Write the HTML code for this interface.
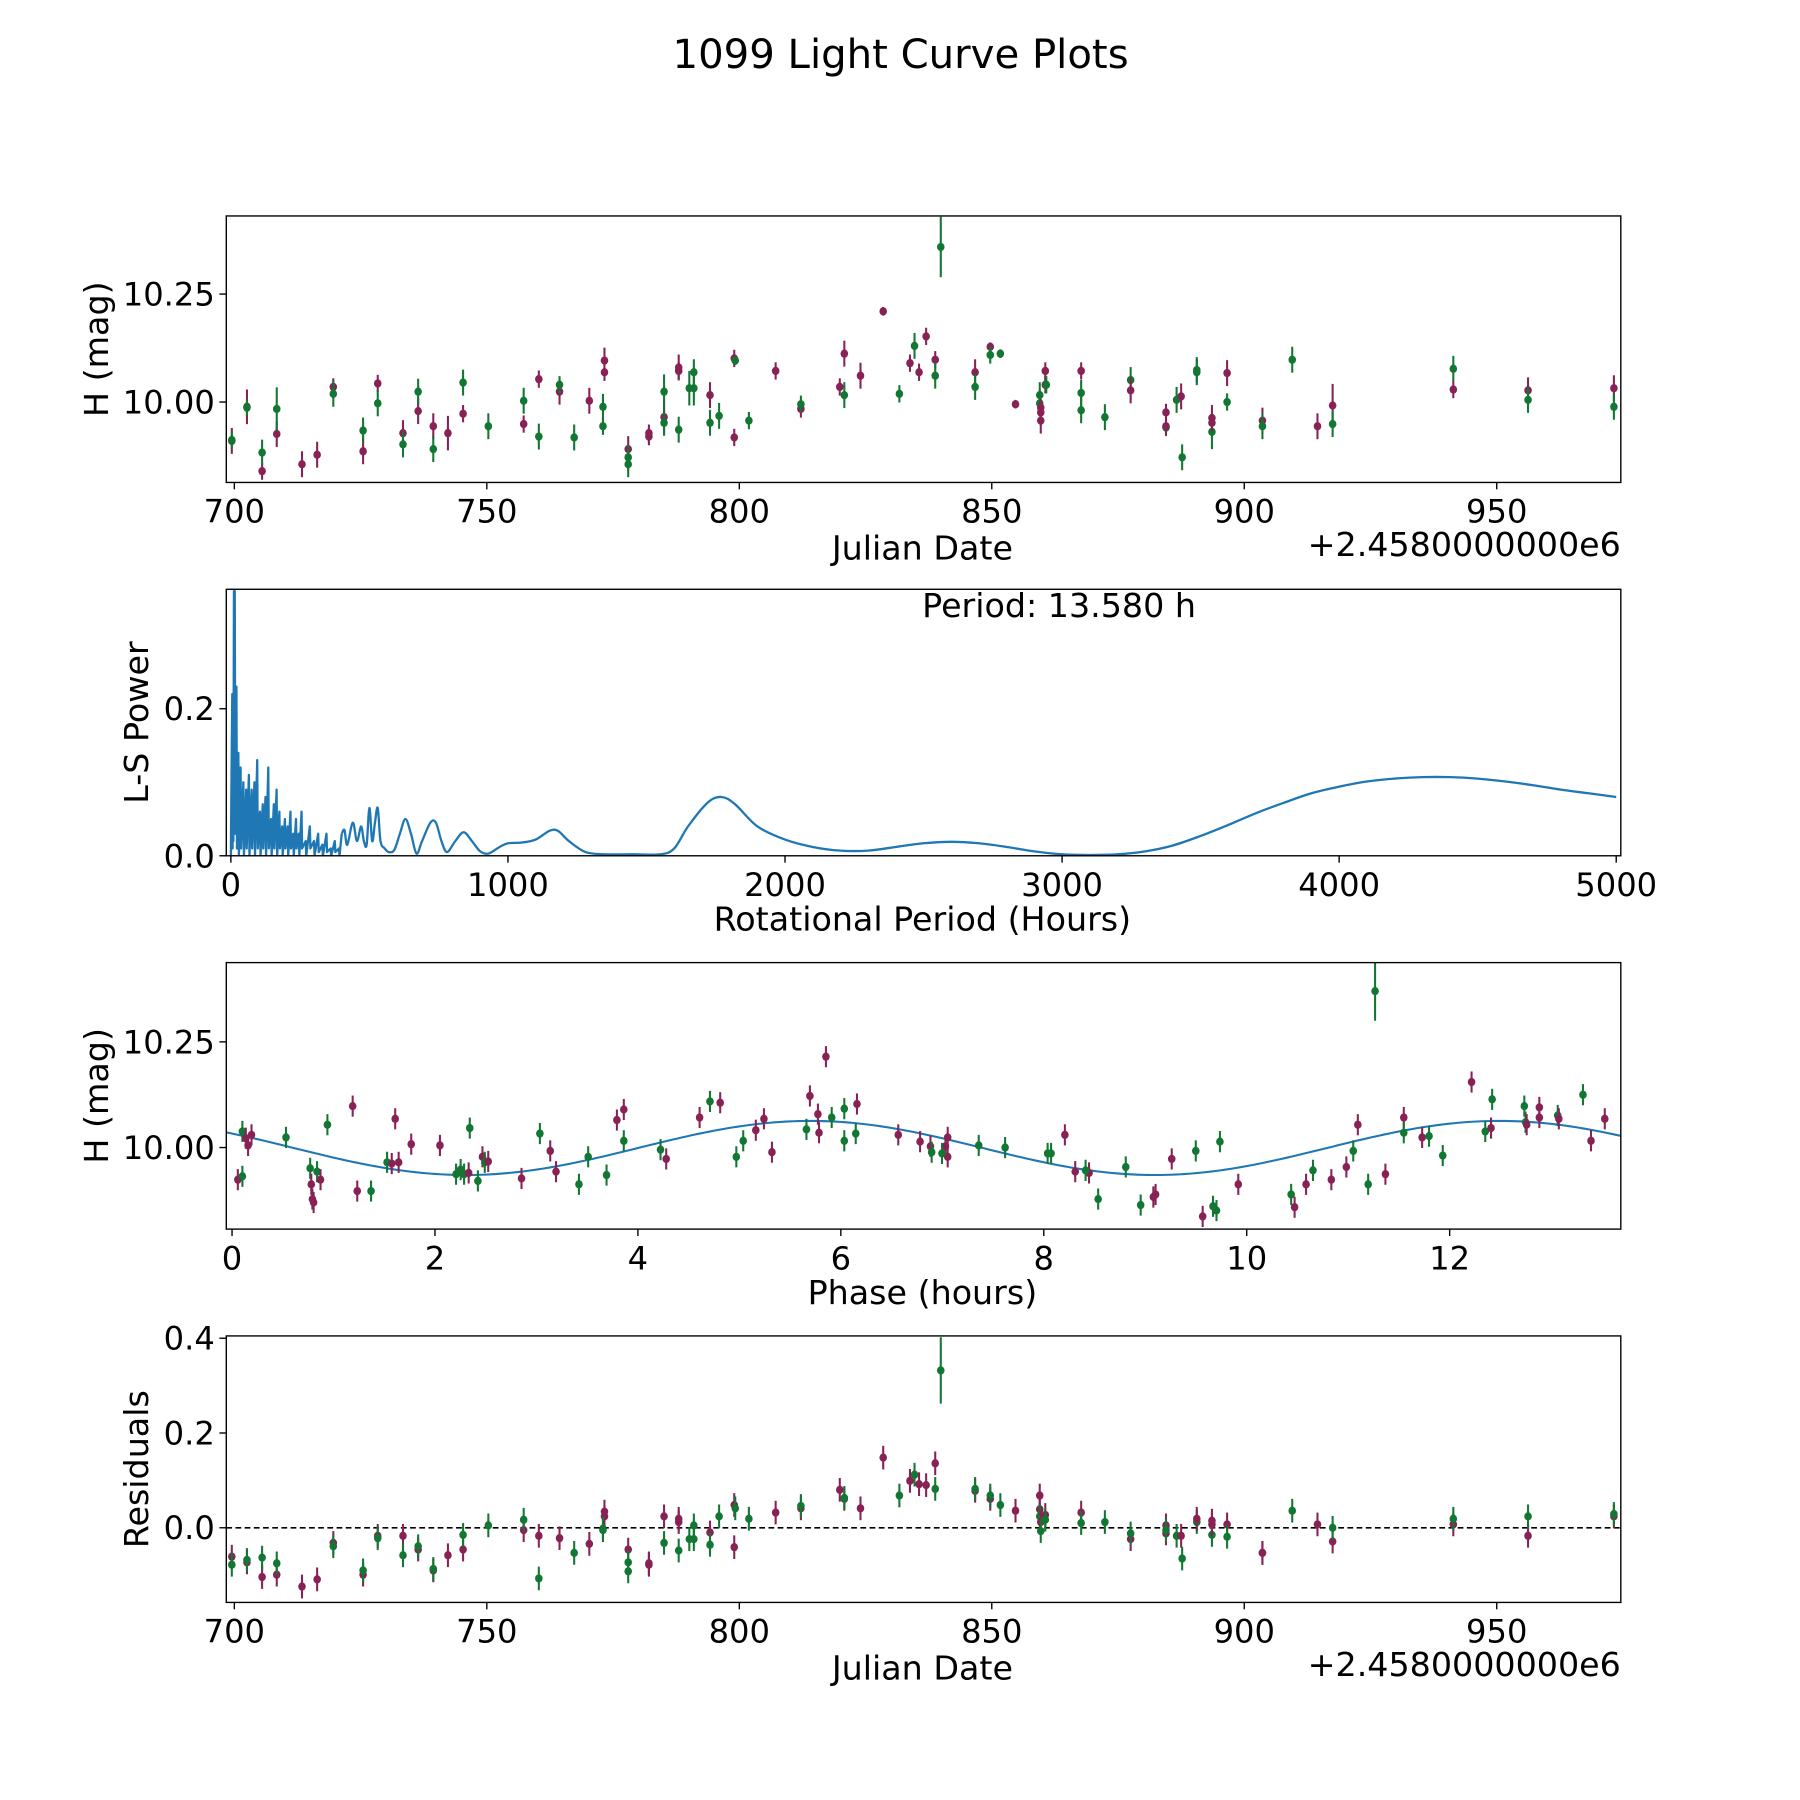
<!DOCTYPE html>
<html><head><meta charset="utf-8"><title>1099 Light Curve Plots</title>
<style>html,body{margin:0;padding:0;background:#fff}svg{display:block}text{font-family:"DejaVu Sans","Liberation Sans",sans-serif;fill:#000}</style>
</head><body>
<svg id="fig" width="1800" height="1800" viewBox="0 0 1567 1567" xmlns="http://www.w3.org/2000/svg">
<rect width="1567" height="1567" fill="#fff"/>
<text x="784" y="59" font-size="35" text-anchor="middle">1099 Light Curve Plots</text>
</svg>
<script>
// ---- Panel 1: light curve (JD offset from 2458000) ----
const lcJd=[699.5,699.5,702.5,702.5,705.5,705.5,708.4,708.4,713.4,716.4,719.6,719.6,725.5,725.5,728.4,728.4,733.4,733.4,736.4,736.4,739.4,739.4,742.3,745.3,745.3,750.3,757.3,757.3,760.3,760.3,764.4,764.4,767.3,770.3,773.3,773.3,773.0,773.0,778.0,778.0,778.0,782.1,782.1,785.1,785.1,785.1,788.0,788.0,788.0,790.1,791.0,791.0,794.2,794.2,796.0,799.0,799.0,799.2,801.9,807.2,812.2,812.2,819.9,820.8,820.8,824.0,828.5,831.7,833.8,834.7,835.6,837.0,838.8,838.8,839.9,846.7,846.7,849.7,849.7,851.7,854.7,859.5,859.5,859.7,859.7,859.7,860.6,860.6,860.8,867.7,867.7,867.7,872.4,877.5,877.5,884.5,884.5,884.5,886.6,887.5,887.7,890.6,890.6,893.6,893.6,893.6,896.6,896.6,903.6,903.6,909.5,914.5,917.5,917.5,941.4,941.4,956.2,956.2,973.2,973.2];
const lcMag=[9.910,9.912,9.989,9.987,9.840,9.883,9.926,9.984,9.856,9.878,10.035,10.019,9.886,9.934,10.043,9.997,9.928,9.902,9.979,10.024,9.944,9.891,9.928,9.973,10.045,9.944,9.949,10.003,10.053,9.920,10.024,10.040,9.918,10.003,10.096,10.069,9.989,9.944,9.891,9.872,9.856,9.928,9.920,9.965,9.952,10.024,10.080,10.072,9.936,10.032,10.032,10.069,10.016,9.952,9.968,9.918,10.101,10.096,9.957,10.072,9.984,9.995,10.035,10.112,10.016,10.061,10.210,10.019,10.090,10.130,10.069,10.152,10.098,10.061,10.359,10.069,10.035,10.128,10.109,10.112,9.995,10.016,9.997,9.976,9.957,9.987,10.072,10.040,10.040,10.072,10.021,9.981,9.965,10.051,10.027,9.976,9.941,9.944,10.005,10.013,9.872,10.074,10.069,9.963,9.931,9.952,10.067,10.000,9.957,9.944,10.098,9.944,9.992,9.949,10.029,10.077,10.027,10.005,10.032,9.989];
const lcBand="mg mg mg mg m m mg mg mg mg mg mg m mg g mg mg mg g m mmgg mgg mm mgg mmg ggg mg g mmg g m mg mmg m m g mgmmmg g mg mg g m ggmmmmmg mgg g gm mgm gmg gg mgm mg mg g m mg mg mg mg".replace(/ /g,'').split("");
const lcErr=[.03,.02,.04,.02,.02,.03,.03,.05,.03,.03,.02,.03,.03,.03,.02,.03,.03,.03,.03,.03,.03,.03,.04,.02,.03,.03,.02,.03,.02,.03,.03,.02,.03,.03,.03,.02,.03,.02,.03,.03,.03,.02,.02,.04,.03,.04,.03,.02,.03,.04,.04,.03,.03,.03,.03,.02,.02,.01,.02,.02,.02,.02,.02,.03,.03,.03,.01,.02,.02,.03,.02,.02,.02,.03,.07,.03,.03,.01,.02,.01,.01,.03,.03,.03,.03,.02,.02,.02,.02,.02,.03,.03,.03,.03,.03,.02,.02,.02,.03,.03,.03,.03,.03,.03,.04,.02,.03,.02,.03,.03,.03,.03,.05,.03,.02,.03,.03,.03,.03,.03];
// ---- Panel 2: periodogram ----
const lsPeriod=[0,3,5,6,8,9,11,12,14,16,20,22,27,29,35,37,45,47,55,57,65,67,75,77,85,87,95,97,105,107,115,117,125,127,135,137,145,147,155,157,165,167,175,177,185,187,195,197,205,207,215,217,225,227,235,237,245,247,255,257,270,272,285,287,300,302,315,317,330,332,345,347,360,362,375,377,390,392,400,410,420,440,455,470,480,490,500,510,520,530,540,555,570,590,610,630,650,670,690,720,740,760,780,810,840,870,900,930,970,1000,1050,1100,1150,1180,1220,1280,1350,1450,1550,1600,1650,1720,1770,1820,1900,2000,2100,2200,2300,2400,2500,2600,2700,2800,2900,3000,3100,3200,3300,3400,3500,3600,3700,3800,3900,4000,4100,4200,4300,4400,4500,4600,4700,4800,4900,5000];
const lsPower=[0.0,0.14,0.22,0.01,0.13,0.02,0.36,0.05,0.36,0.03,0.23,0.01,0.14,0.0,0.12,0.01,0.10,0.0,0.09,0.01,0.11,0.0,0.09,0.01,0.10,0.0,0.13,0.01,0.06,0.0,0.07,0.01,0.08,0.0,0.12,0.01,0.05,0.0,0.07,0.01,0.09,0.0,0.06,0.01,0.04,0.0,0.05,0.01,0.04,0.0,0.06,0.01,0.03,0.0,0.05,0.01,0.03,0.0,0.06,0.01,0.02,0.0,0.04,0.01,0.02,0.0,0.03,0.005,0.015,0.0,0.03,0.005,0.01,0.0,0.02,0.005,0.01,0.0,0.03,0.035,0.015,0.045,0.02,0.04,0.02,0.015,0.065,0.02,0.045,0.065,0.02,0.01,0.005,0.008,0.03,0.05,0.03,0.003,0.02,0.045,0.045,0.02,0.005,0.02,0.032,0.02,0.006,0.003,0.012,0.017,0.018,0.022,0.034,0.034,0.02,0.005,0.002,0.002,0.002,0.01,0.04,0.072,0.08,0.07,0.04,0.022,0.012,0.007,0.007,0.012,0.017,0.019,0.017,0.012,0.006,0.002,0.001,0.002,0.006,0.014,0.027,0.042,0.058,0.072,0.085,0.094,0.101,0.105,0.107,0.107,0.105,0.101,0.096,0.09,0.085,0.08];
const bestPeriod=13.580;
// ---- Panel 3: phased light curve ----
const phHours=[0.057,0.102,0.102,0.136,0.158,0.192,0.532,0.770,0.781,0.804,0.792,0.838,0.872,0.940,1.189,1.234,1.370,1.528,1.574,1.642,1.608,1.766,2.049,2.208,2.253,2.287,2.343,2.332,2.423,2.468,2.491,2.525,2.853,3.034,3.136,3.193,3.419,3.510,3.691,3.793,3.861,3.861,4.223,4.279,4.608,4.710,4.811,4.970,5.038,5.162,5.242,5.321,5.661,5.695,5.774,5.785,5.853,5.910,6.034,6.034,6.159,6.147,6.566,6.781,6.883,6.895,7.031,7.053,7.053,6.997,7.359,7.619,8.038,8.072,8.208,8.310,8.446,8.412,8.536,8.808,8.955,9.080,9.102,9.261,9.498,9.566,9.668,9.702,9.736,9.917,10.438,10.472,10.585,10.653,10.834,10.982,11.050,11.095,11.197,11.265,11.367,11.548,11.548,11.729,11.797,11.932,12.216,12.351,12.408,12.419,12.736,12.748,12.759,12.884,12.884,13.065,13.076,13.314,13.393,13.529];
const phMag=[9.924,9.932,10.038,10.022,10.005,10.030,10.024,9.951,9.913,9.870,9.878,9.943,9.924,10.054,10.098,9.897,9.897,9.965,9.962,9.965,10.068,10.008,10.005,9.937,9.948,9.937,10.046,9.940,9.921,9.978,9.965,9.967,9.927,10.033,9.992,9.943,9.913,9.978,9.935,10.065,10.090,10.016,9.995,9.973,10.071,10.109,10.106,9.978,10.016,10.041,10.068,9.989,10.043,10.122,10.079,10.035,10.215,10.071,10.016,10.092,10.103,10.033,10.030,10.014,10.003,9.989,10.003,9.978,10.024,9.986,10.005,10.000,9.986,9.986,10.030,9.943,9.940,9.946,9.878,9.954,9.864,9.883,9.889,9.973,9.992,9.837,9.861,9.851,10.014,9.913,9.889,9.859,9.913,9.946,9.924,9.954,9.992,10.054,9.913,10.370,9.937,10.071,10.035,10.024,10.027,9.981,10.155,10.038,10.046,10.114,10.098,10.060,10.054,10.095,10.071,10.076,10.068,10.125,10.016,10.068];
const phBand="mggmmm g gmmmgm g mmg gmmm mm ggggm gmgm m gmm ggg mmg gm mgm ggmmm gmmmmg ggmg m mmgmmmg gg ggmmmgg ggmmm gmggg m gmmgmmgmggm mgmgg mgmg ggmmm gmgmm".replace(/ /g,'').split("");
const fitMean=9.999, fitAmp=0.064, fitPeakHour=5.7;
// ---- Panel 4: residuals ----
const resJd=[699.5,699.5,702.5,702.5,705.5,705.5,708.4,708.4,713.4,716.4,719.6,719.6,725.5,725.5,728.4,728.4,733.4,733.4,736.4,736.4,739.4,739.4,742.3,745.3,745.3,750.3,757.3,757.3,760.3,760.3,764.4,767.3,770.3,773.3,773.3,773.0,773.0,778.0,778.0,778.0,782.1,782.1,785.1,785.1,788.0,788.0,788.0,790.1,791.0,791.0,794.2,794.2,796.0,799.0,799.0,799.2,801.9,807.2,812.2,812.2,819.9,820.8,820.8,824.0,828.5,831.7,833.8,834.7,835.6,837.0,838.8,838.8,839.9,846.7,846.7,849.7,849.7,851.7,854.7,859.5,859.5,859.5,859.7,859.7,860.6,860.6,867.7,867.7,872.4,877.5,877.5,884.5,884.5,884.5,886.6,887.5,887.7,890.6,890.6,893.6,893.6,893.6,896.6,896.6,903.6,903.6,909.5,914.5,917.5,917.5,941.4,941.4,956.2,956.2,973.2,973.2];
const resVal=[-0.061,-0.078,-0.073,-0.068,-0.104,-0.063,-0.099,-0.075,-0.124,-0.109,-0.032,-0.039,-0.099,-0.090,-0.017,-0.022,-0.017,-0.058,-0.046,-0.039,-0.090,-0.087,-0.058,-0.046,-0.015,0.005,-0.005,0.017,-0.017,-0.107,-0.022,-0.053,-0.034,0.034,0.024,-0.005,-0.002,-0.046,-0.073,-0.092,-0.075,-0.078,0.024,-0.032,0.019,0.012,-0.048,-0.024,-0.024,0.005,-0.010,-0.036,0.024,-0.041,0.048,0.041,0.019,0.032,0.041,0.046,0.080,0.061,0.063,0.041,0.148,0.068,0.099,0.112,0.092,0.090,0.136,0.082,0.332,0.078,0.082,0.061,0.068,0.048,0.036,0.068,0.039,0.024,0.012,-0.007,0.027,0.017,0.032,0.010,0.012,-0.024,-0.012,-0.012,0.005,-0.005,-0.017,-0.017,-0.065,0.012,0.019,0.015,-0.015,0.007,0.007,-0.019,-0.053,-0.053,0.036,0.007,-0.029,0.000,0.007,0.019,-0.017,0.024,0.024,0.029];
const resBand="mg mg mg mg m m mg mg mg mg mg mg m mg g mg mg m g m mmgg mgg mm mg mmg ggg mg g mmg g m mg mmg m m g mgmmmg g mg mg g m mmgmgmg mg g mg mmg g m g gm mgm mg mm g m mg mg mg mg".replace(/ /g,'').split("");

const SVGNS="http://www.w3.org/2000/svg";
const svg=document.getElementById('fig');
const COL={m:'#882255',g:'#117733'};
const TICKFS=28, LABFS=29;
function mk(tag,attrs,parent){const e=document.createElementNS(SVGNS,tag);for(const k in attrs)e.setAttribute(k,attrs[k]);(parent||svg).appendChild(e);return e;}
function lin(d0,d1,r0,r1){return v=>r0+(v-d0)*(r1-r0)/(d1-d0);}
function axesFrame(name){const g=mk('g',{});return g;}
function border(g,L,T,W,H){const r=mk('rect',{x:L,y:T,width:W,height:H,fill:'none',stroke:'#000','stroke-width':1.2},g);}
function xTicks(g,sx,vals,labels,B,yLab){
  vals.forEach((v,i)=>{const x=sx(v);
    const t=mk('line',{x1:x,x2:x,y1:B,y2:B+6,stroke:'#000','stroke-width':1.2},g);
    
    const tx=mk('text',{x:x,y:yLab,'font-size':TICKFS,'text-anchor':'middle'},g);tx.textContent=labels[i];
    });
}
function yTicks(g,sy,vals,labels,L){
  vals.forEach((v,i)=>{const y=sy(v);
    const t=mk('line',{x1:L-6,x2:L,y1:y,y2:y,stroke:'#000','stroke-width':1.2},g);
    
    const tx=mk('text',{x:L-10,y:y+10,'font-size':TICKFS,'text-anchor':'end'},g);tx.textContent=labels[i];
    });
}
function label(g,txt,x,y,rot,name){const t=mk('text',{x:x,y:y,'font-size':LABFS,'text-anchor':'middle',transform:rot?`rotate(-90 ${x} ${y})`:''},g);t.textContent=txt;return t;}
function points(g,xs,ys,bands,errs,sx,sy,clip){
  const pg=mk('g',{'clip-path':`url(#${clip})`},g);
  xs.forEach((xv,i)=>{const c=COL[bands[i]]||COL.g;const x=sx(xv),y=sy(ys[i]);const e=errs[i];
    const l=mk('line',{x1:x,x2:x,y1:sy(ys[i]+e),y2:sy(ys[i]-e),stroke:c,'stroke-width':1.8},pg);
    
    const d=mk('ellipse',{cx:x,cy:y,rx:3.3,ry:3.6,fill:c},pg);
    });
}
const defs=mk('defs',{});
function clipRect(id,L,T,W,H){const c=mk('clipPath',{id:id},defs);mk('rect',{x:L,y:T,width:W,height:H},c);}
function smoothPath(P){let d='M'+P[0][0].toFixed(2)+','+P[0][1].toFixed(2);
  for(let i=0;i<P.length-1;i++){const p0=P[i-1]||P[i],p1=P[i],p2=P[i+1],p3=P[i+2]||P[i+1];
    const c1=[p1[0]+(p2[0]-p0[0])/6,p1[1]+(p2[1]-p0[1])/6],c2=[p2[0]-(p3[0]-p1[0])/6,p2[1]-(p3[1]-p1[1])/6];
    d+=` C${c1[0].toFixed(2)},${c1[1].toFixed(2)} ${c2[0].toFixed(2)},${c2[1].toFixed(2)} ${p2[0].toFixed(2)},${p2[1].toFixed(2)}`;}
  return d;}

const L=197,R=1411,W=R-L,H=232;
const jdTicks=[700,750,800,850,900,950];
{const T=188;clipRect('c1',L,T,W,H);
 const g=axesFrame('light-curve-panel');
 const sx=lin(700,950,204,1303), sy=lin(10.0,10.25,350,256);
 points(g,lcJd,lcMag,lcBand,lcErr,sx,sy,'c1');
 border(g,L,T,W,H);
 xTicks(g,sx,jdTicks,jdTicks.map(String),T+H,455);
 yTicks(g,sy,[10.0,10.25],['10.00','10.25'],L);
 label(g,'Julian Date',803,487,false,'x-axis-title');
 const o=mk('text',{x:R,y:484,'font-size':LABFS,'text-anchor':'end'},g);o.textContent='+2.4580000000e6';
 label(g,'H (mag)',94,304,true,'y-axis-title');}
{const T=513;clipRect('c2',L,T,W,H);
 const g=axesFrame('periodogram-panel');
 const sx=lin(0,5000,201,1407), sy=lin(0,0.2,745,617);
 const noisy=[],smooth=[];
 lsPeriod.forEach((v,i)=>{const pt=[sx(v),sy(lsPower[i])];if(v<=400)noisy.push(pt);if(v>=400)smooth.push(pt);});
 const p=mk('polyline',{points:noisy.map(p=>p[0].toFixed(2)+','+p[1].toFixed(2)).join(' '),fill:'none',stroke:'#1f77b4','stroke-width':2,'stroke-linejoin':'round','clip-path':'url(#c2)'},g);
 
 const p2=mk('path',{d:smoothPath(smooth),fill:'none',stroke:'#1f77b4','stroke-width':2,'clip-path':'url(#c2)'},g);
 
 border(g,L,T,W,H);
 const xt=[0,1000,2000,3000,4000,5000];xTicks(g,sx,xt,xt.map(String),T+H,780);
 yTicks(g,sy,[0,0.2],['0.0','0.2'],L);
 const pt=mk('text',{x:922,y:537,'font-size':LABFS,'text-anchor':'middle'},g);pt.textContent='Period: '+bestPeriod.toFixed(3)+' h';
 label(g,'Rotational Period (Hours)',803,810,false,'x-axis-title');
 label(g,'L-S Power',129,629,true,'y-axis-title');}
{const T=838;clipRect('c3',L,T,W,H);
 const g=axesFrame('phased-curve-panel');
 const sx=lin(0,12,202,1262), sy=lin(10.0,10.25,999,907);
 const phErr=phHours.map((h,i)=>phMag[i]>10.3?0.07:0.025);
 const pts=[];for(let k=0;k<=300;k++){const h=-0.06+k*(13.75/300);pts.push(sx(h).toFixed(2)+','+sy(fitMean+fitAmp*Math.cos(2*Math.PI*(h-fitPeakHour)/(bestPeriod/2))).toFixed(2));}
 const f=mk('polyline',{points:pts.join(' '),fill:'none',stroke:'#1f77b4','stroke-width':1.8,'clip-path':'url(#c3)'},g);
 
 points(g,phHours,phMag,phBand,phErr,sx,sy,'c3');
 border(g,L,T,W,H);
 const xt=[0,2,4,6,8,10,12];xTicks(g,sx,xt,xt.map(String),T+H,1105);
 yTicks(g,sy,[10.0,10.25],['10.00','10.25'],L);
 label(g,'Phase (hours)',803,1135,false,'x-axis-title');
 label(g,'H (mag)',94,954,true,'y-axis-title');}
{const T=1163;clipRect('c4',L,T,W,H);
 const g=axesFrame('residuals-panel');
 const sx=lin(700,950,204,1303), sy=lin(0,0.4,1330,1165);
 const z=mk('line',{x1:L,x2:R,y1:sy(0),y2:sy(0),stroke:'#000','stroke-width':1.4,'stroke-dasharray':'5,3'},g);
 
 const resErr=resVal.map(v=>v>0.3?0.07:0.025);
 points(g,resJd,resVal,resBand,resErr,sx,sy,'c4');
 border(g,L,T,W,H);
 xTicks(g,sx,jdTicks,jdTicks.map(String),T+H,1430);
 yTicks(g,sy,[0,0.2,0.4],['0.0','0.2','0.4'],L);
 label(g,'Julian Date',803,1462,false,'x-axis-title');
 const o=mk('text',{x:R,y:1459,'font-size':LABFS,'text-anchor':'end'},g);o.textContent='+2.4580000000e6';
 label(g,'Residuals',129,1279,true,'y-axis-title');}
</script>
</body></html>
